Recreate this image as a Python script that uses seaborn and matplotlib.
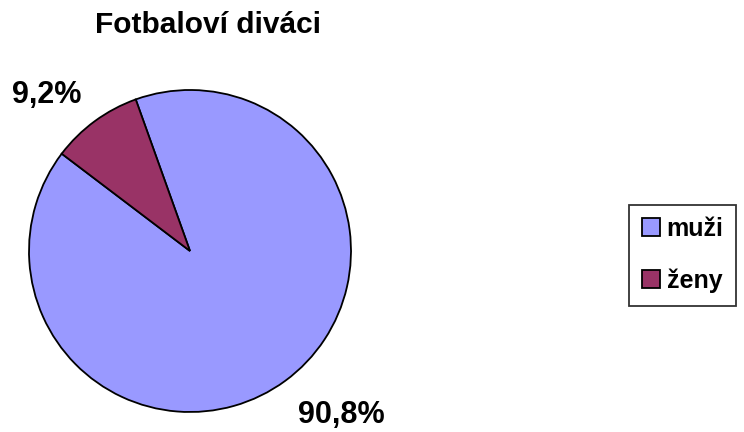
import matplotlib
matplotlib.use("Agg")
import matplotlib.pyplot as plt
import seaborn as sns

categories = ["muži", "ženy"]
shares = [90.8, 9.2]
labels = ["90,8%", "9,2%"]
colors = ["#9999FF", "#993366"]

sns.set_theme(style="white")
plt.rcParams['font.family'] = ['Liberation Sans', 'DejaVu Sans']
plt.rcParams['text.color'] = 'black'

fig = plt.figure(figsize=(7.44, 4.32), dpi=100)
ax = fig.add_axes([29 / 744, 20 / 432, 322 / 744, 322 / 432])

wedges, texts = ax.pie(shares, colors=colors, startangle=109.7, counterclock=False,
                       labels=labels, labeldistance=1.3,
                       wedgeprops=dict(edgecolor="black", linewidth=1.3),
                       textprops=dict(fontsize=22, fontweight="bold", color="black"))
ax.set_xlim(-1, 1)
ax.set_ylim(-1, 1)
ax.set_aspect("equal")

# move labels to where the reference puts them
texts[0].set_position((0.94, -1.02))
texts[1].set_position((-0.89, 0.97))
for t in texts:
    t.set_ha("center")
    t.set_va("center")
    t.set_clip_on(False)

fig.text(208 / 744, 1 - 25 / 432, "Fotbaloví diváci", ha="center", va="center",
         fontsize=21.5, fontweight="bold", color="black")

leg = fig.legend(wedges, categories, loc="center left",
                 bbox_to_anchor=(629 / 744, 1 - 255 / 432),
                 frameon=True, fancybox=False, edgecolor="black",
                 prop=dict(size=18, weight="bold"), handlelength=0.75, handleheight=0.75,
                 handletextpad=0.25, labelspacing=1.1, borderpad=0.5, borderaxespad=0)
leg.get_frame().set_linewidth(1.3)
for t in leg.get_texts():
    t.set_color("black")

fig.savefig("out.png", dpi=100)
